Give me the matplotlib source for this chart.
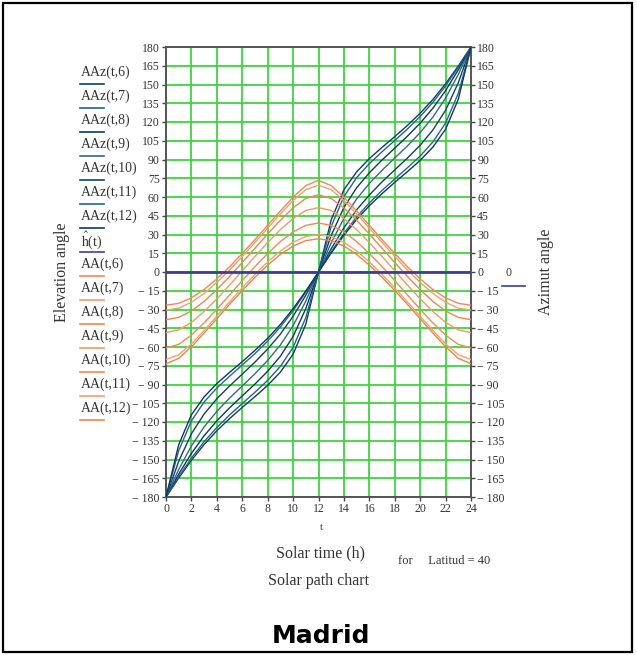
import numpy as np
import matplotlib.pyplot as plt
from matplotlib.lines import Line2D
from matplotlib.patches import Rectangle

plt.rcParams['font.family'] = ['Liberation Serif', 'DejaVu Serif']
plt.rcParams['mathtext.fontset'] = 'stix'

# solar time, hours
hours = list(range(25))

# elevation angle AA(t, month), degrees
elev_6 = [-26.6, -25.1, -20.7, -14.0, -5.5, 4.2, 14.8, 25.9, 37.4, 48.8, 59.8, 69.1, 73.4,
          69.1, 59.8, 48.8, 37.4, 25.9, 14.8, 4.2, -5.5, -14.0, -20.7, -25.1, -26.6]
elev_7 = [-30.5, -28.9, -24.2, -17.2, -8.4, 1.6, 12.4, 23.7, 35.1, 46.5, 57.1, 65.8, 69.5,
          65.8, 57.1, 46.5, 35.1, 23.7, 12.4, 1.6, -8.4, -17.2, -24.2, -28.9, -30.5]
elev_8 = [-38.2, -36.3, -31.2, -23.5, -14.1, -3.6, 7.6, 19.0, 30.4, 41.4, 51.3, 58.8, 61.8,
          58.8, 51.3, 41.4, 30.4, 19.0, 7.6, -3.6, -14.1, -23.5, -31.2, -36.3, -38.2]
elev_9 = [-48.5, -46.3, -40.3, -31.6, -21.5, -10.5, 1.0, 12.4, 23.6, 33.9, 42.8, 49.2, 51.5,
          49.2, 42.8, 33.9, 23.6, 12.4, 1.0, -10.5, -21.5, -31.6, -40.3, -46.3, -48.5]
elev_10 = [-60.8, -57.9, -50.5, -40.7, -29.8, -18.4, -6.9, 4.3, 14.8, 24.3, 32.1, 37.3, 39.2,
           37.3, 32.1, 24.3, 14.8, 4.3, -6.9, -18.4, -29.8, -40.7, -50.5, -57.9, -60.8]
elev_11 = [-70.0, -66.2, -57.5, -46.8, -35.4, -24.0, -12.7, -1.9, 8.1, 16.8, 23.8, 28.4, 30.0,
           28.4, 23.8, 16.8, 8.1, -1.9, -12.7, -24.0, -35.4, -46.8, -57.5, -66.2, -70.0]
elev_12 = [-73.4, -69.1, -59.8, -48.8, -37.4, -25.9, -14.8, -4.2, 5.5, 14.0, 20.7, 25.1, 26.6,
           25.1, 20.7, 14.0, 5.5, -4.2, -14.8, -25.9, -37.4, -48.8, -59.8, -69.1, -73.4]

# azimuth angle AAz(t, month), degrees
az_6 = [-180, -164.8, -150.6, -138.0, -127.0, -117.3, -108.3, -99.7, -90.7, -80.1, -65.8, -41.8, 0,
        41.8, 65.8, 80.1, 90.7, 99.7, 108.3, 117.3, 127.0, 138.0, 150.6, 164.8, 180]
az_7 = [-180, -163.8, -148.9, -135.7, -124.4, -114.4, -105.2, -96.2, -86.7, -75.5, -60.3, -36.5, 0,
        36.5, 60.3, 75.5, 86.7, 96.2, 105.2, 114.4, 124.4, 135.7, 148.9, 163.8, 180]
az_8 = [-180, -161.7, -145.1, -131.0, -119.1, -108.7, -99.1, -89.6, -79.4, -67.4, -51.6, -29.3, 0,
        29.3, 51.6, 67.4, 79.4, 89.6, 99.1, 108.7, 119.1, 131.0, 145.1, 161.7, 180]
az_9 = [-180, -158.0, -139.1, -123.9, -111.5, -100.9, -91.2, -81.4, -70.8, -58.4, -43.0, -23.3, 0,
        23.3, 43.0, 58.4, 70.8, 81.4, 91.2, 100.9, 111.5, 123.9, 139.1, 158.0, 180]
az_10 = [-180, -151.4, -129.4, -113.6, -101.4, -91.2, -81.7, -72.1, -61.6, -49.7, -35.4, -18.6, 0,
         18.6, 35.4, 49.7, 61.6, 72.1, 81.7, 91.2, 101.4, 113.6, 129.4, 151.4, 180]
az_11 = [-180, -142.9, -119.1, -104.0, -92.8, -83.4, -74.4, -65.3, -55.3, -44.0, -30.9, -16.1, 0,
         16.1, 30.9, 44.0, 55.3, 65.3, 74.4, 83.4, 92.8, 104.0, 119.1, 142.9, 180]
az_12 = [-180, -138.2, -114.2, -99.9, -89.3, -80.3, -71.7, -62.7, -53.0, -42.0, -29.4, -15.2, 0,
         15.2, 29.4, 42.0, 53.0, 62.7, 71.7, 80.3, 89.3, 99.9, 114.2, 138.2, 180]

# horizon trace h(t)
horizon = [0] * 25

months = [6, 7, 8, 9, 10, 11, 12]
elevations = [elev_6, elev_7, elev_8, elev_9, elev_10, elev_11, elev_12]
azimuths = [az_6, az_7, az_8, az_9, az_10, az_11, az_12]

blues = ['#123c69', '#2b6282', '#0e3a5f', '#35698a', '#143f6b', '#2d6585', '#0f3760']
oranges = ['#ec8a55', '#f0a070', '#e9874f', '#f09a68', '#ec8c56', '#f0a274', '#e8864e']
horizon_color = '#3d3d9a'
text_color = '#333333'

W, H = 637, 655
fig = plt.figure(figsize=(W / 100, H / 100), dpi=100)
ax = fig.add_axes([166 / W, 1 - 497 / H, (471 - 166) / W, (497 - 47) / H])

for i in range(len(months)):
    ax.plot(hours, azimuths[i], color=blues[i], lw=1.0, zorder=3)
for i in range(len(months)):
    ax.plot(hours, elevations[i], color=oranges[i], lw=1.0, zorder=3)
ax.plot(hours, horizon, color=horizon_color, lw=2.0, zorder=4)

ax.set_xlim(0, 24)
ax.set_ylim(-180, 180)
ax.set_xticks(np.arange(0, 25, 2))
yt = np.arange(-180, 181, 15)
ax.set_yticks(yt)
ax.set_yticklabels([f'\u2212 {abs(v)}' if v < 0 else str(v) for v in yt])
ax.tick_params(axis='both', direction='out', length=3, width=1, color='#444444',
               labelsize=8.5, labelcolor=text_color, pad=1.5)
ax.tick_params(axis='y', right=True, labelright=True)
ax.grid(True, color='#3ed43e', lw=1.3, zorder=1)
ax.set_axisbelow(True)
for s in ax.spines.values():
    s.set_color('#555555')
    s.set_linewidth(1.4)


def px(x, y):
    return x / W, 1 - y / H


# trace legend on the left
labels = ([f'AAz(t,{m})' for m in months] + [r'$\mathrm{\hat{h}}$(t)']
          + [f'AA(t,{m})' for m in months])
colors = blues + [horizon_color] + oranges
for j, (lab, c) in enumerate(zip(labels, colors)):
    y = 72 + 24 * j
    fig.text(*px(81, y), lab, fontsize=10, color=text_color, ha='left', va='center')
    fig.add_artist(Line2D([80 / W, 104 / W], [1 - (y + 12) / H] * 2, color=c, lw=1.2))

# trace legend on the right
fig.text(*px(505, 273), '0', fontsize=8.5, color=text_color, ha='left', va='center')
fig.add_artist(Line2D([502 / W, 525 / W], [1 - 286 / H] * 2, color=horizon_color, lw=1.2))

fig.text(*px(62, 272), 'Elevation angle', fontsize=11.5, color=text_color,
         rotation=90, ha='center', va='center')
fig.text(*px(546, 272), 'Azimut angle', fontsize=11.5, color=text_color,
         rotation=90, ha='center', va='center')

fig.text(*px(321, 528), 't', fontsize=8, color=text_color, ha='center', va='center')
fig.text(*px(320, 553), 'Solar time (h)', fontsize=11.5, color=text_color,
         ha='center', va='center')
fig.text(*px(398, 561), 'for     Latitud = 40', fontsize=9, color=text_color,
         ha='left', va='center')
fig.text(*px(318, 581), 'Solar path chart', fontsize=11.5, color=text_color,
         ha='center', va='center')
fig.text(*px(321, 636), 'Madrid', fontsize=18, fontweight='bold', family='DejaVu Sans',
         color='black', ha='center', va='center')

# outer frame
fig.add_artist(Rectangle((3 / W, 3 / H), (632 - 3) / W, (652 - 3) / H,
                         transform=fig.transFigure, fill=False, ec='black', lw=1.6))

fig.savefig('out.png', dpi=100)
